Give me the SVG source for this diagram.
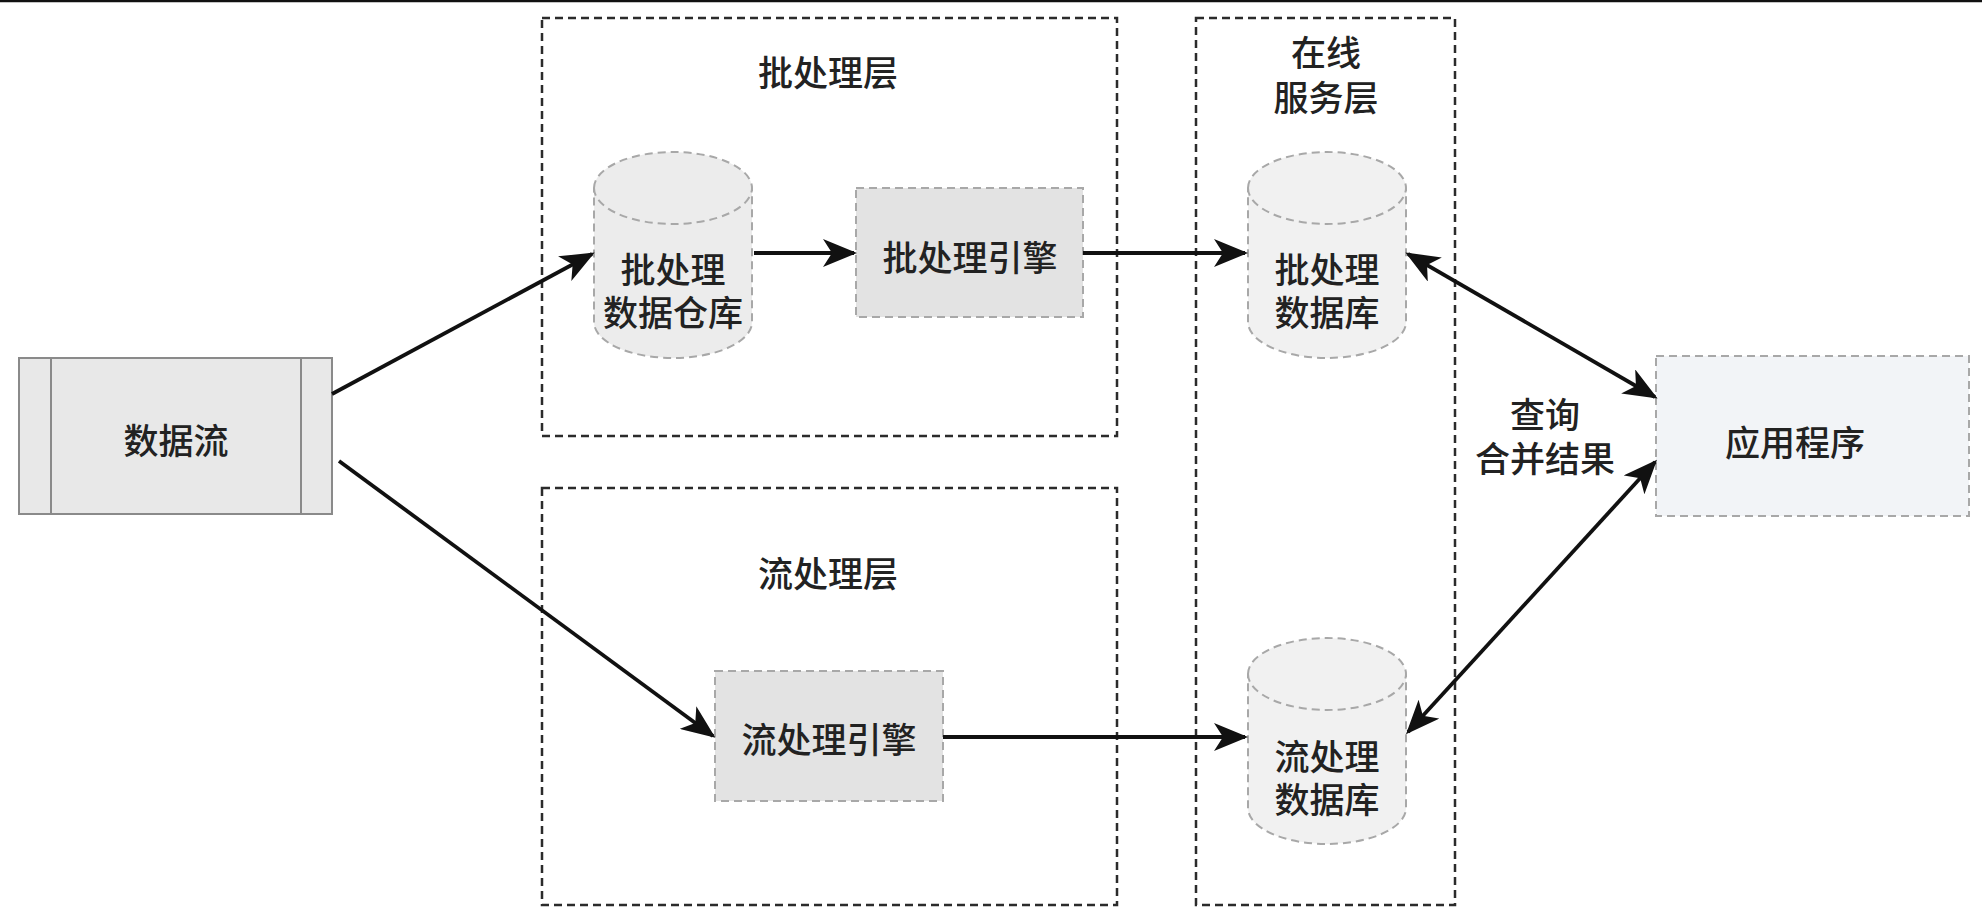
<svg xmlns="http://www.w3.org/2000/svg" width="1982" height="910" viewBox="0 0 1982 910">
<style>
text{font-family:"Noto Sans CJK SC","Noto Sans",sans-serif;font-size:35px;font-weight:500;fill:#222;text-anchor:middle;dominant-baseline:central}
.layer{fill:none;stroke:#2b2b2b;stroke-width:2.5;stroke-dasharray:8 5}
.node{stroke:#a8a8a8;stroke-width:2;stroke-dasharray:8 5}
.conn{fill:none;stroke:#111;stroke-width:3.8}
</style>
<defs>
<marker id="ah" markerUnits="userSpaceOnUse" markerWidth="34" markerHeight="28" viewBox="0 0 34 28" refX="31" refY="14" orient="auto-start-reverse">
<path d="M0,0 L34,14 L0,28 L9,14 Z" fill="#111"/>
</marker>
</defs>
<rect width="1982" height="910" fill="#fff"/>
<line x1="0" y1="1" x2="1982" y2="1" stroke="#111" stroke-width="2.5"/>

<g id="batch-layer">
<rect class="layer" x="542" y="18" width="575" height="418"/>
<text x="828" y="70">批处理层</text>
</g>
<g id="stream-layer">
<rect class="layer" x="542" y="488" width="575" height="417"/>
<text x="828" y="571">流处理层</text>
</g>
<g id="serving-layer">
<rect class="layer" x="1196" y="18" width="259" height="887"/>
<text x="1326" y="50">在线<tspan x="1326" dy="45">服务层</tspan></text>
</g>

<g id="data-stream">
<rect x="19" y="358" width="313" height="156" fill="#e8e8e8" stroke="#8a8a8a" stroke-width="2"/>
<line x1="51" y1="358" x2="51" y2="514" stroke="#8a8a8a" stroke-width="2"/>
<line x1="301" y1="358" x2="301" y2="514" stroke="#8a8a8a" stroke-width="2"/>
<text x="176" y="438">数据流</text>
</g>

<g id="batch-warehouse">
<path class="node" fill="#ececec" d="M594,188 A79,36 0 0 1 752,188 V322 A79,36 0 0 1 594,322 Z"/>
<path class="node" fill="none" d="M594,188 A79,36 0 0 0 752,188"/>
<text x="673" y="267">批处理<tspan x="673" dy="43">数据仓库</tspan></text>
</g>

<g id="batch-engine">
<rect class="node" x="856" y="188" width="227" height="129" fill="#e3e3e3"/>
<text x="970" y="255">批处理引擎</text>
</g>

<g id="stream-engine">
<rect class="node" x="715" y="671" width="228" height="130" fill="#e3e3e3"/>
<text x="829" y="737">流处理引擎</text>
</g>

<g id="batch-db">
<path class="node" fill="#f1f1f1" d="M1248,188 A79,36 0 0 1 1406,188 V322 A79,36 0 0 1 1248,322 Z"/>
<path class="node" fill="none" d="M1248,188 A79,36 0 0 0 1406,188"/>
<text x="1327" y="267">批处理<tspan x="1327" dy="43">数据库</tspan></text>
</g>

<g id="stream-db">
<path class="node" fill="#f1f1f1" d="M1248,674 A79,36 0 0 1 1406,674 V808 A79,36 0 0 1 1248,808 Z"/>
<path class="node" fill="none" d="M1248,674 A79,36 0 0 0 1406,674"/>
<text x="1327" y="754">流处理<tspan x="1327" dy="43">数据库</tspan></text>
</g>

<g id="app">
<rect class="node" x="1656" y="356" width="313" height="160" fill="#f2f4f7"/>
<text x="1795" y="440">应用程序</text>
</g>

<g id="query-label">
<text x="1545" y="412">查询<tspan x="1545" dy="44">合并结果</tspan></text>
</g>

<g id="connectors">
<line class="conn" x1="332" y1="394" x2="592" y2="254" marker-end="url(#ah)"/>
<line class="conn" x1="339" y1="461" x2="713" y2="736" marker-end="url(#ah)"/>
<line class="conn" x1="754" y1="253" x2="854" y2="253" marker-end="url(#ah)"/>
<line class="conn" x1="1083" y1="253" x2="1245" y2="253" marker-end="url(#ah)"/>
<line class="conn" x1="943" y1="737" x2="1245" y2="737" marker-end="url(#ah)"/>
<line class="conn" x1="1408" y1="254" x2="1655" y2="397" marker-start="url(#ah)" marker-end="url(#ah)"/>
<line class="conn" x1="1408" y1="732" x2="1655" y2="462" marker-start="url(#ah)" marker-end="url(#ah)"/>
</g>
</svg>
